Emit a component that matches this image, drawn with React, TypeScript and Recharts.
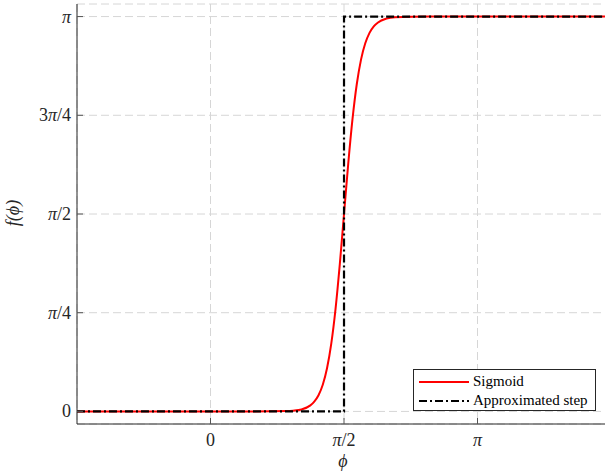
import React from 'react';
import { LineChart, Line, XAxis, YAxis, CartesianGrid, Legend } from 'recharts';

// ---- data ----
const sigmoidPhi = [-1.571, 0.5, 0.9, 0.971, 1.071, 1.171, 1.221, 1.271, 1.321, 1.371, 1.421, 1.471, 1.521, 1.571, 1.621, 1.671, 1.721, 1.771, 1.821, 1.871, 1.921, 1.971, 2.071, 2.171, 2.371, 2.8, 4.712];
const sigmoidValues = [0, 0, 0.003, 0.006, 0.016, 0.046, 0.078, 0.129, 0.212, 0.343, 0.539, 0.814, 1.168, 1.571, 1.974, 2.327, 2.603, 2.799, 2.929, 3.012, 3.064, 3.095, 3.125, 3.136, 3.141, 3.1416, 3.1416];
const stepPhi = [-1.571, 1.571, 1.571, 4.712];
const stepValues = [0, 0, 3.1416, 3.1416];
const xTickValues = [0, 1.5708, 3.1416];
const xTickLabels = ['0', 'π/2', 'π'];
const yTickValues = [0, 0.7854, 1.5708, 2.3562, 3.1416];
const yTickLabels = ['0', 'π/4', 'π/2', '3π/4', 'π'];
const seriesNames = ['Sigmoid', 'Approximated step'];
const xDomain = [-1.5708, 4.7124];
const yDomain = [-0.1, 3.2416];

const sigmoidData = sigmoidPhi.map((phi, i) => ({ phi, f: sigmoidValues[i] }));
const stepData = stepPhi.map((phi, i) => ({ phi, f: stepValues[i] }));

// ---- layout ----
const W = 620;
const H = 474;
const PLOT_LEFT = 77;
const PLOT_TOP = 4;
const PLOT_BOTTOM = 424;
const PLOT_RIGHT = 611;
const FONT = '"Liberation Serif", "Times New Roman", serif';
const AXIS_COLOR = '#262626';
const TICK_COLOR = '#555';
const TICK_LEN = 6;
const STEP_DASH = '8 3 2 3';

const labelFor = (v: number, values: number[], labels: string[]) => {
  let best = 0;
  values.forEach((t, i) => {
    if (Math.abs(t - v) < Math.abs(values[best] - v)) best = i;
  });
  return labels[best];
};

const renderPi = (label: string) => {
  const parts = label.split('π');
  const out: any[] = [];
  parts.forEach((p, i) => {
    if (i > 0) out.push(<tspan key={'pi' + i} fontStyle="italic">π</tspan>);
    if (p) out.push(<tspan key={'t' + i}>{p}</tspan>);
  });
  return out;
};

const BottomTick = (props: any) => {
  const { x, payload } = props;
  const label = labelFor(payload.value, xTickValues, xTickLabels);
  return (
    <g>
      <line x1={x} x2={x} y1={PLOT_BOTTOM} y2={PLOT_BOTTOM - TICK_LEN} stroke={TICK_COLOR} strokeWidth={1} />
      <text x={x} y={446} textAnchor="middle" fontFamily={FONT} fontSize={18} fill="#262626">
        {renderPi(label)}
      </text>
    </g>
  );
};

const TopTick = (props: any) => {
  const { x } = props;
  return <line x1={x} x2={x} y1={PLOT_TOP} y2={PLOT_TOP + TICK_LEN} stroke={TICK_COLOR} strokeWidth={1} />;
};

const LeftTick = (props: any) => {
  const { y, payload } = props;
  const label = labelFor(payload.value, yTickValues, yTickLabels);
  return (
    <g>
      <line x1={PLOT_LEFT} x2={PLOT_LEFT + TICK_LEN} y1={y} y2={y} stroke={TICK_COLOR} strokeWidth={1} />
      <text x={71} y={y + 6} textAnchor="end" fontFamily={FONT} fontSize={18} fill="#262626">
        {renderPi(label)}
      </text>
    </g>
  );
};

const RightTick = (props: any) => {
  const { y } = props;
  return <line x1={PLOT_RIGHT} x2={PLOT_RIGHT - TICK_LEN} y1={y} y2={y} stroke={TICK_COLOR} strokeWidth={1} />;
};

const LegendBox = () => (
  <div
    style={{
      width: 183,
      height: 42,
      boxSizing: 'border-box',
      border: `1px solid ${AXIS_COLOR}`,
      background: '#fff',
      position: 'relative',
      fontFamily: FONT,
      fontSize: 15,
      color: '#000',
    }}
  >
    <svg width={60} height={40} style={{ position: 'absolute', left: 0, top: 0 }}>
      <line x1={5} x2={55} y1={12} y2={12} stroke="#ff0000" strokeWidth={2} />
      <line x1={5} x2={55} y1={31} y2={31} stroke="#000" strokeWidth={2} strokeDasharray={STEP_DASH} />
    </svg>
    <div style={{ position: 'absolute', left: 59, top: 2, lineHeight: '19px', whiteSpace: 'nowrap' }}>{seriesNames[0]}</div>
    <div style={{ position: 'absolute', left: 59, top: 21, lineHeight: '19px', whiteSpace: 'nowrap' }}>{seriesNames[1]}</div>
  </div>
);

export default function App() {
  return (
    <div style={{ position: 'absolute', left: 0, top: 0, width: 605, height: 474, overflow: 'hidden', background: '#fff' }}>
      <div style={{ position: 'relative', width: W, height: H }}>
        <LineChart width={W} height={H} margin={{ top: PLOT_TOP, right: 0, bottom: 0, left: 0 }}>
          <CartesianGrid stroke="#d6d6d6" strokeDasharray="8 4" strokeWidth={1} />
          <XAxis
            dataKey="phi"
            type="number"
            domain={xDomain}
            allowDataOverflow
            ticks={xTickValues}
            interval={0}
            height={50}
            axisLine={{ stroke: AXIS_COLOR, strokeWidth: 1 }}
            tickLine={false}
            tick={BottomTick}
          />
          <XAxis
            xAxisId="top"
            orientation="top"
            dataKey="phi"
            type="number"
            domain={xDomain}
            allowDataOverflow
            ticks={xTickValues}
            interval={0}
            height={0}
            axisLine={{ stroke: AXIS_COLOR, strokeWidth: 1 }}
            tickLine={false}
            tick={TopTick}
          />
          <YAxis
            type="number"
            domain={yDomain}
            allowDataOverflow
            ticks={yTickValues}
            interval={0}
            width={PLOT_LEFT}
            axisLine={{ stroke: AXIS_COLOR, strokeWidth: 1 }}
            tickLine={false}
            tick={LeftTick}
            label={{
              value: 'f(ϕ)',
              angle: -90,
              position: 'insideLeft',
              offset: 0,
              content: () => (
                <text
                  x={19}
                  y={213}
                  transform="rotate(-90 19 213)"
                  textAnchor="middle"
                  fontFamily={FONT}
                  fontSize={18}
                  fontStyle="italic"
                  fill="#262626"
                >
                  f(ϕ)
                </text>
              ),
            }}
          />
          <YAxis
            yAxisId="right"
            orientation="right"
            type="number"
            domain={yDomain}
            allowDataOverflow
            ticks={yTickValues}
            interval={0}
            width={W - PLOT_RIGHT}
            axisLine={{ stroke: AXIS_COLOR, strokeWidth: 1 }}
            tickLine={false}
            tick={RightTick}
          />
          <Line
            data={sigmoidData}
            dataKey="f"
            name={seriesNames[0]}
            type="monotone"
            stroke="#ff0000"
            strokeWidth={2}
            dot={false}
            activeDot={false}
            isAnimationActive={false}
          />
          <Line
            data={stepData}
            dataKey="f"
            name={seriesNames[1]}
            type="linear"
            stroke="#000000"
            strokeWidth={2.2}
            strokeDasharray={STEP_DASH}
            dot={false}
            activeDot={false}
            isAnimationActive={false}
          />
          <Legend
            layout="horizontal"
            verticalAlign="middle"
            align="center"
            wrapperStyle={{ position: 'absolute', left: 413, top: 369, width: 183, height: 42, margin: 0 }}
            content={() => <LegendBox />}
          />
        </LineChart>
        <div
          style={{
            position: 'absolute',
            left: 343,
            top: 451,
            transform: 'translateX(-50%)',
            fontFamily: FONT,
            fontSize: 18,
            fontStyle: 'italic',
            color: '#262626',
            lineHeight: '20px',
          }}
        >
          ϕ
        </div>
      </div>
    </div>
  );
}
